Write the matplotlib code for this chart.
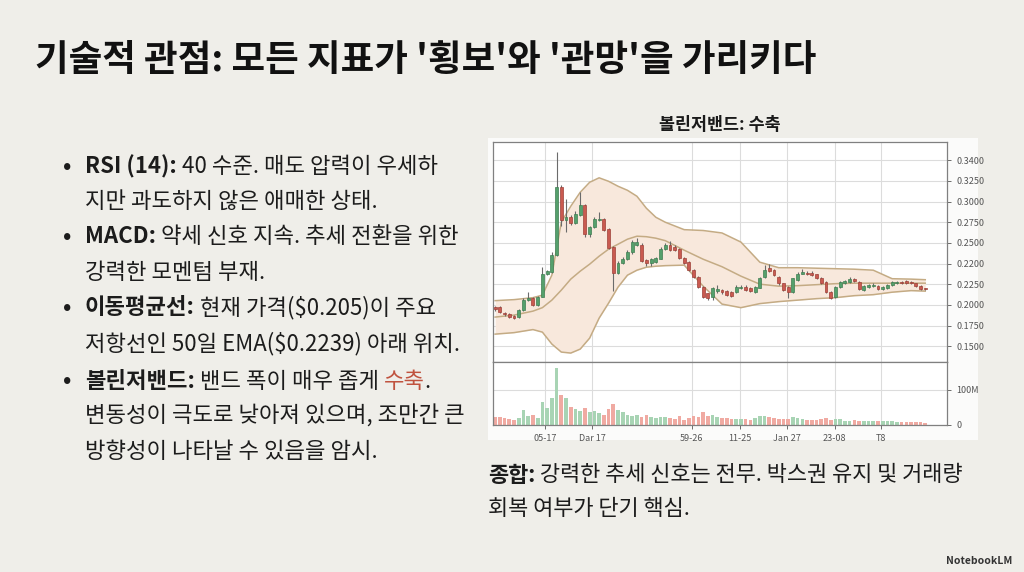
import matplotlib
matplotlib.use('Agg')
import matplotlib.pyplot as plt
from matplotlib.patches import Rectangle
import numpy as np

FONT = ['Noto Sans CJK KR', 'DejaVu Sans']
plt.rcParams['font.family'] = FONT

W, H = 1024, 572

# candle data (index = trading day)
opens = [0.1719, 0.1719, 0.1655, 0.1635, 0.1619, 0.1607, 0.1687, 0.1808, 0.1836, 0.1748,
         0.1848, 0.2130, 0.2150, 0.2351, 0.3177, 0.2775, 0.2815, 0.2746, 0.2835, 0.2956,
         0.2613, 0.2694, 0.2775, 0.2786, 0.2666, 0.2452, 0.2142, 0.2251, 0.2303, 0.2384,
         0.2480, 0.2480, 0.2291, 0.2251, 0.2271, 0.2311, 0.2432, 0.2472, 0.2452, 0.2424,
         0.2319, 0.2271, 0.2171, 0.2090, 0.1969, 0.1889, 0.1848, 0.1913, 0.1929, 0.1917,
         0.1901, 0.1909, 0.1957, 0.1969, 0.1957, 0.1909, 0.1957, 0.2090, 0.2191, 0.2171,
         0.2090, 0.2010, 0.1969, 0.1909, 0.2050, 0.2130, 0.2142, 0.2142, 0.2118, 0.2078,
         0.2022, 0.1909, 0.1848, 0.1969, 0.2010, 0.2030, 0.2062, 0.2030, 0.1929, 0.1965,
         0.1981, 0.1981, 0.1941, 0.1957, 0.1989, 0.2013, 0.2030, 0.2038, 0.2022, 0.2010,
         0.1981, 0.1949]
closes = [0.1699, 0.1667, 0.1635, 0.1607, 0.1595, 0.1687, 0.1808, 0.1836, 0.1748, 0.1848,
          0.2130, 0.2158, 0.2351, 0.3177, 0.2774, 0.2815, 0.2746, 0.2855, 0.2956, 0.2613,
          0.2694, 0.2795, 0.2795, 0.2654, 0.2440, 0.2142, 0.2263, 0.2311, 0.2392, 0.2505,
          0.2513, 0.2279, 0.2251, 0.2303, 0.2319, 0.2432, 0.2480, 0.2412, 0.2412, 0.2319,
          0.2263, 0.2171, 0.2090, 0.1969, 0.1848, 0.1836, 0.1949, 0.1941, 0.1901, 0.1869,
          0.1861, 0.1969, 0.1965, 0.1929, 0.1917, 0.1969, 0.2078, 0.2171, 0.2160, 0.2110,
          0.2010, 0.1929, 0.1901, 0.2070, 0.2130, 0.2150, 0.2120, 0.2110, 0.2078, 0.2010,
          0.1901, 0.1836, 0.1969, 0.2030, 0.2038, 0.2062, 0.2038, 0.1941, 0.1981, 0.1989,
          0.1997, 0.1941, 0.1969, 0.1989, 0.2030, 0.2030, 0.2013, 0.2013, 0.2013, 0.1981,
          0.1941, 0.1941]
highs = [0.1740, 0.1735, 0.1670, 0.1650, 0.1630, 0.1695, 0.1830, 0.1909, 0.1850, 0.1860,
         0.2211, 0.2175, 0.2392, 0.3599, 0.3200, 0.3036, 0.2840, 0.2880, 0.3117, 0.2970,
         0.2710, 0.2810, 0.2875, 0.2800, 0.2680, 0.2465, 0.2280, 0.2325, 0.2420, 0.2530,
         0.2560, 0.2495, 0.2305, 0.2320, 0.2335, 0.2450, 0.2500, 0.2520, 0.2470, 0.2435,
         0.2330, 0.2280, 0.2180, 0.2100, 0.1980, 0.1900, 0.1965, 0.1990, 0.1945, 0.1930,
         0.1915, 0.1985, 0.1990, 0.1985, 0.1970, 0.1980, 0.2090, 0.2231, 0.2240, 0.2185,
         0.2100, 0.2020, 0.1980, 0.2080, 0.2145, 0.2190, 0.2165, 0.2165, 0.2130, 0.2090,
         0.2035, 0.1920, 0.1980, 0.2045, 0.2055, 0.2085, 0.2075, 0.2040, 0.1995, 0.2000,
         0.2010, 0.1995, 0.1980, 0.2000, 0.2045, 0.2045, 0.2042, 0.2050, 0.2035, 0.2020,
         0.1990, 0.1960]
lows = [0.1680, 0.1650, 0.1620, 0.1595, 0.1580, 0.1595, 0.1680, 0.1795, 0.1735, 0.1740,
        0.1840, 0.2110, 0.2140, 0.2340, 0.2700, 0.2633, 0.2720, 0.2730, 0.2820, 0.2573,
        0.2573, 0.2680, 0.2760, 0.2640, 0.2425, 0.1921, 0.2125, 0.2240, 0.2290, 0.2370,
        0.2465, 0.2265, 0.2225, 0.2215, 0.2255, 0.2300, 0.2420, 0.2400, 0.2400, 0.2305,
        0.2250, 0.2160, 0.2075, 0.1955, 0.1830, 0.1815, 0.1810, 0.1900, 0.1885, 0.1855,
        0.1845, 0.1895, 0.1940, 0.1915, 0.1905, 0.1900, 0.1950, 0.2080, 0.2150, 0.2095,
        0.1995, 0.1915, 0.1828, 0.1895, 0.2040, 0.2120, 0.2110, 0.2100, 0.2065, 0.2000,
        0.1890, 0.1820, 0.1835, 0.1960, 0.2000, 0.2020, 0.2025, 0.1930, 0.1915, 0.1955,
        0.1970, 0.1930, 0.1930, 0.1945, 0.1980, 0.2005, 0.2005, 0.2005, 0.2000, 0.1970,
        0.1930, 0.1930]
volumes = [22.1, 20.2, 17.3, 15.4, 14.4, 19.2, 41.3, 25.0, 28.8, 19.2,
           63.5, 46.2, 76.9, 161.5, 84.6, 75.0, 51.0, 44.2, 38.5, 48.1,
           36.5, 38.5, 31.7, 28.8, 43.3, 59.6, 41.3, 34.6, 26.9, 25.0,
           26.9, 21.2, 26.9, 22.1, 19.2, 21.2, 21.2, 17.3, 15.4, 24.0,
           14.4, 17.3, 24.0, 22.1, 34.6, 23.1, 26.9, 20.2, 17.3, 17.3,
           15.4, 15.4, 15.4, 15.4, 14.4, 17.3, 25.0, 24.0, 22.1, 17.3,
           15.4, 15.4, 15.4, 21.2, 17.3, 15.4, 13.5, 14.4, 14.4, 15.4,
           17.3, 14.4, 15.4, 15.4, 10.6, 9.6, 13.5, 11.5, 10.6, 10.6,
           10.6, 10.6, 10.6, 9.6, 8.7, 7.7, 7.7, 7.7, 6.7, 7.7,
           5.8, 2.9]  # millions

# bollinger band at these days
band_days = [0, 4, 8, 10, 12, 14, 16, 18, 20, 22, 24, 26, 28, 30, 32, 34, 36,
             40, 44, 48, 52, 56, 60, 64, 68, 72, 76, 80, 84, 88, 91]
band_upper = [0.1802, 0.1814, 0.1838, 0.1868, 0.2110, 0.2750, 0.2943, 0.3112, 0.3233, 0.3287,
              0.3245, 0.3185, 0.3136, 0.3064, 0.2919, 0.2810, 0.2750, 0.2660, 0.2650, 0.2620,
              0.2510, 0.2267, 0.2200, 0.2200, 0.2194, 0.2188, 0.2182, 0.2170, 0.2067, 0.2062, 0.2055]
band_mid = [0.1603, 0.1627, 0.1675, 0.1717, 0.1808, 0.1929, 0.2062, 0.2158, 0.2243, 0.2339,
            0.2424, 0.2484, 0.2545, 0.2581, 0.2575, 0.2557, 0.2527, 0.2412, 0.2303, 0.2212,
            0.2098, 0.2001, 0.1977, 0.1983, 0.1995, 0.2007, 0.2013, 0.2013, 0.2013, 0.2013, 0.2013]
band_lower = [0.1397, 0.1415, 0.1452, 0.1421, 0.1277, 0.1180, 0.1168, 0.1216, 0.1349, 0.1590,
              0.1772, 0.1965, 0.2110, 0.2170, 0.2206, 0.2218, 0.2225, 0.2231, 0.1977, 0.1760,
              0.1717, 0.1766, 0.1790, 0.1808, 0.1826, 0.1838, 0.1862, 0.1874, 0.1904, 0.1923, 0.1917]

price_ticks = [0.350, 0.325, 0.300, 0.275, 0.250, 0.225, 0.200, 0.175, 0.150, 0.125]
price_labels = ['0.3400', '0.3250', '0.3000', '0.2750', '0.2500',
                '0.2200', '0.2250', '0.2000', '0.1750', '0.1500']
date_ticks = [10.5, 20.6, 41.6, 51.8, 61.7, 71.8, 81.7]
date_labels = ['05-17', 'Dar 17', '59-26', '11-25', 'Jan 27', '23-08', 'T8']

GREEN, GREEN_EDGE = '#55a06c', '#3f7d52'
RED, RED_EDGE = '#c95a50', '#9e4038'
VOL_GREEN, VOL_RED = '#a8d4b4', '#f0aaa2'
BAND_LINE, BAND_FILL = '#c4ab84', '#f8e8dc'
GRID = '#dcdcdc'
SPINE = '#808080'

fig = plt.figure(figsize=(W / 100, H / 100), dpi=100)
fig.patch.set_facecolor('#efeee9')


def fx(px):
    return px / W


def fy(py):
    return 1 - py / H


# white box behind the chart
fig.add_artist(Rectangle((fx(488), fy(440)), fx(978) - fx(488), fy(138) - fy(440),
                         transform=fig.transFigure, facecolor='#fbfbfa', edgecolor='none', zorder=0))

ax = fig.add_axes([fx(493), fy(362), fx(947) - fx(493), fy(142) - fy(362)])
axv = fig.add_axes([fx(493), fy(424.5), fx(947) - fx(493), fy(362) - fy(424.5)], sharex=ax)

days = np.arange(len(opens))
o = np.array(opens)
c = np.array(closes)
up = c >= o

# bollinger
ax.fill_between(band_days, band_lower, band_upper, color=BAND_FILL, zorder=1, lw=0)
for band in (band_upper, band_mid, band_lower):
    ax.plot(band_days, band, color=BAND_LINE, lw=1.1, zorder=2)

# candles
ax.vlines(days, lows, highs, color='#6b6b6b', lw=0.8, zorder=3)
body_h = np.maximum(np.abs(c - o), 0.0012)
ax.bar(days, body_h, bottom=np.minimum(o, c), width=0.62,
       color=np.where(up, GREEN, RED), edgecolor=np.where(up, GREEN_EDGE, RED_EDGE),
       linewidth=0.5, zorder=4)

# volume
axv.bar(days, volumes, width=0.78, color=np.where(up, VOL_GREEN, VOL_RED), zorder=2)

for a in (ax, axv):
    a.set_facecolor('white')
    a.set_xlim(-0.45, 95.6)
    a.set_xticks(date_ticks)
    a.grid(True, color=GRID, lw=0.8, zorder=0)
    a.set_axisbelow(True)
    a.yaxis.tick_right()
    a.tick_params(axis='both', labelsize=6.5, colors='#555555', length=3, width=0.6)
    for s in a.spines.values():
        s.set_color(SPINE)
        s.set_linewidth(0.9)

ax.set_ylim(0.106, 0.372)
ax.set_yticks(price_ticks)
ax.set_yticklabels(price_labels)
ax.tick_params(axis='x', labelbottom=False, length=0)

axv.set_ylim(0, 180)
axv.set_yticks([0, 100])
axv.set_yticklabels(['0', '100M'])
axv.set_xticklabels(date_labels)

fig.text(fx(720), fy(125), '볼린저밴드: 수축', fontsize=12.5, fontweight='bold',
         color='#1a1a1a', ha='center', va='center')

# title
fig.text(fx(35), fy(60), "기술적 관점: 모든 지표가 '횡보'와 '관망'을 가리키다",
         fontsize=26.3, fontweight='heavy', color='#111111', ha='left', va='center')

renderer = fig.canvas.get_renderer()
TEXT = '#1c1c1c'


def rich_line(x, y, parts, size=16):
    for text, weight, color in parts:
        t = fig.text(fx(x), fy(y), text, fontsize=size, fontweight=weight,
                     color=color, ha='left', va='center')
        x += t.get_window_extent(renderer).width


bullet_x, text_x = 63, 85
line_y = [166.7, 201.7, 236.7, 272.5, 307.5, 343.3, 381.0, 416.3, 451.6]
lines = [
    [('RSI (14):', 'bold', TEXT), (' 40 수준. 매도 압력이 우세하', 'normal', TEXT)],
    [('지만 과도하지 않은 애매한 상태.', 'normal', TEXT)],
    [('MACD:', 'bold', TEXT), (' 약세 신호 지속. 추세 전환을 위한', 'normal', TEXT)],
    [('강력한 모멘텀 부재.', 'normal', TEXT)],
    [('이동평균선:', 'bold', TEXT), (' 현재 가격($0.205)이 주요', 'normal', TEXT)],
    [('저항선인 50일 EMA($0.2239) 아래 위치.', 'normal', TEXT)],
    [('볼린저밴드:', 'bold', TEXT), (' 밴드 폭이 매우 좁게 ', 'normal', TEXT),
     ('수축', 'normal', '#c0533f'), ('.', 'normal', TEXT)],
    [('변동성이 극도로 낮아져 있으며, 조만간 큰', 'normal', TEXT)],
    [('방향성이 나타날 수 있음을 암시.', 'normal', TEXT)],
]
for i, (y, parts) in enumerate(zip(line_y, lines)):
    if i in (0, 2, 4, 6):
        fig.text(fx(bullet_x), fy(y), '•', fontsize=16, fontweight='bold', color=TEXT,
                 ha='left', va='center')
    rich_line(text_x, y, parts)

rich_line(488, 475, [('종합:', 'bold', TEXT),
                     (' 강력한 추세 신호는 전무. 박스권 유지 및 거래량', 'normal', TEXT)], size=15.8)
rich_line(488, 509, [('회복 여부가 단기 핵심.', 'normal', TEXT)], size=15.8)

fig.text(fx(1012), fy(561), 'NotebookLM', fontsize=7.5, fontweight='bold',
         color='#333333', ha='right', va='center')

fig.savefig('out.png', dpi=100, facecolor=fig.get_facecolor())
